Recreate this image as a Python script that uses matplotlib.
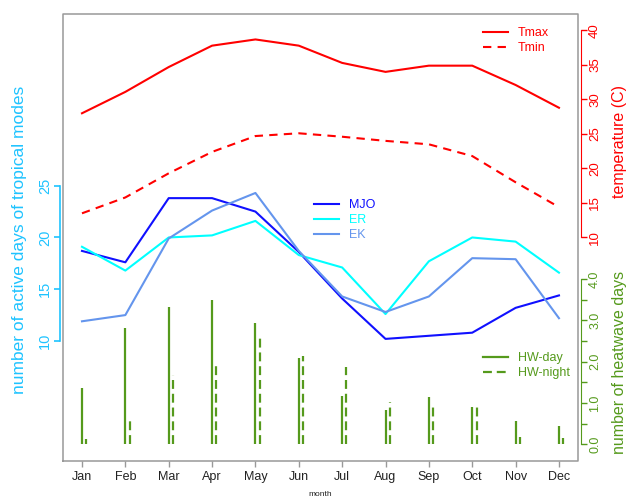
import matplotlib
matplotlib.use('Agg')
import matplotlib.pyplot as plt
import numpy as np

plt.rcParams['font.family'] = ['Liberation Sans', 'DejaVu Sans']

months = ['Jan', 'Feb', 'Mar', 'Apr', 'May', 'Jun',
          'Jul', 'Aug', 'Sep', 'Oct', 'Nov', 'Dec']
tmax = [28.0, 31.1, 34.7, 37.8, 38.7, 37.8, 35.3, 34.0, 34.9, 34.9, 32.1, 28.8]
tmin = [13.5, 15.8, 19.3, 22.4, 24.7, 25.1, 24.6, 24.0, 23.5, 21.8, 18.0, 14.4]
mjo = [18.7, 17.6, 23.8, 23.8, 22.5, 18.6, 14.1, 10.2, 10.5, 10.8, 13.2, 14.4]
er = [19.1, 16.8, 20.0, 20.2, 21.6, 18.3, 17.1, 12.6, 17.7, 20.0, 19.6, 16.6]
ek = [11.9, 12.5, 19.9, 22.6, 24.3, 18.7, 14.3, 12.8, 14.3, 18.0, 17.9, 12.2]
hw_day = [1.36, 2.82, 3.33, 3.49, 2.93, 2.09, 1.17, 0.83, 1.14, 0.90, 0.56, 0.44]
hw_night = [0.12, 0.63, 1.67, 1.89, 2.57, 2.14, 1.87, 1.02, 0.97, 0.99, 0.17, 0.15]

c_trop = '#1EC3FF'
c_temp = '#FF0000'
c_hw = '#559A1C'
c_frame = '#999999'

x = np.arange(1, 13)

fig = plt.figure(figsize=(6.29, 4.97), dpi=100)
ax = fig.add_axes([0.100, 0.0724, 0.819, 0.8996])
ax2 = ax.twinx()
ax3 = ax.twinx()

for a in (ax, ax2, ax3):
    a.set_xlim(0.56, 12.44)
    a.patch.set_visible(False)
    for s in a.spines.values():
        s.set_visible(False)

leg_kw = dict(frameon=False, fontsize=9, handlelength=2.0, labelspacing=0.25,
              handletextpad=0.8, borderpad=0, borderaxespad=0,
              loc='upper left')

# frame
ax.plot([0.56, 12.44, 12.44, 0.56, 0.56], [-1.6, -1.6, 41.6, 41.6, -1.6],
        color=c_frame, lw=1.1, clip_on=False, zorder=0)

# tropical modes (left axis)
ax.set_ylim(-1.6, 41.6)
ax.plot(x, mjo, color='#1010FF', lw=1.5, label='MJO')
ax.plot(x, er, color='#00FFFF', lw=1.5, label='ER')
ax.plot(x, ek, color='#6495ED', lw=1.5, label='EK')
ax.spines['left'].set_visible(True)
ax.spines['left'].set_bounds(10, 25)
ax.spines['left'].set_position(('outward', 2))
ax.spines['left'].set_color(c_trop)
ax.spines['left'].set_linewidth(1.2)
ax.set_yticks([10, 15, 20, 25])
ax.tick_params(axis='y', colors=c_trop, length=4, width=1.2, labelsize=10.5,
               labelrotation=90, pad=2)
for t in ax.get_yticklabels():
    t.set_va('center')
ax.set_ylabel('number of active days of tropical modes', color=c_trop,
              fontsize=12.5)
ax.yaxis.set_label_coords(-0.07, 0.495)

ax.set_xticks(x)
ax.set_xticklabels(months)
ax.tick_params(axis='x', colors=c_frame, labelcolor='#222222', length=4,
               width=1, labelsize=9, pad=3)
ax.set_xlabel('month', fontsize=6, labelpad=6, color='#222222')
ax.legend(bbox_to_anchor=(0.487, 0.586), labelcolor='linecolor', **leg_kw)

# temperature (right axis)
ax2.set_ylim(-22.4, 42.4)
ax2.plot(x, tmax, color=c_temp, lw=1.5, label='Tmax')
ax2.plot(x, tmin, color=c_temp, lw=1.5, ls=(0, (4, 3)), label='Tmin')
ax2.spines['right'].set_visible(True)
ax2.spines['right'].set_bounds(10, 40)
ax2.spines['right'].set_position(('outward', 2))
ax2.spines['right'].set_color(c_temp)
ax2.set_yticks([10, 15, 20, 25, 30, 35, 40])
ax2.tick_params(axis='y', colors=c_temp, length=4, width=1, labelsize=9.5,
                labelrotation=90, pad=2)
for t in ax2.get_yticklabels():
    t.set_va('center')
ax2.text(1.081, 0.714, 'temperature (C)', transform=ax2.transAxes,
         rotation=90, color=c_temp, fontsize=11.5, ha='center', va='center')
ax2.legend(bbox_to_anchor=(0.8155, 0.971), labelcolor='linecolor', **leg_kw)

# heatwave days (second right axis)
ax3.set_ylim(-0.4, 10.4)
ax3.vlines(x, 0, hw_day, color=c_hw, lw=1.6)
ax3.vlines(x + 0.1, 0, hw_night, color=c_hw, lw=1.6,
           linestyles=(0, (4, 2.2)))
ax3.spines['right'].set_visible(True)
ax3.spines['right'].set_bounds(0, 4)
ax3.spines['right'].set_position(('outward', 2))
ax3.spines['right'].set_color(c_hw)
ax3.set_yticks(np.arange(0, 4.01, 0.5))
ax3.set_yticklabels(['0.0', '', '1.0', '', '2.0', '', '3.0', '', '4.0'])
ax3.tick_params(axis='y', colors=c_hw, length=4, width=1, labelsize=9,
                labelrotation=90, pad=2)
for t in ax3.get_yticklabels():
    t.set_va('center')
ax3.text(1.081, 0.22, 'number of heatwave days', transform=ax3.transAxes,
         rotation=90, color=c_hw, fontsize=11.5, ha='center', va='center')
h1 = plt.Line2D([], [], color=c_hw, lw=1.6)
h2 = plt.Line2D([], [], color=c_hw, lw=1.6, ls=(0, (4, 2.2)))
ax3.legend([h1, h2], ['HW-day', 'HW-night'], bbox_to_anchor=(0.8155, 0.244),
           labelcolor=c_hw, **leg_kw)

fig.savefig('out.png', dpi=100)
